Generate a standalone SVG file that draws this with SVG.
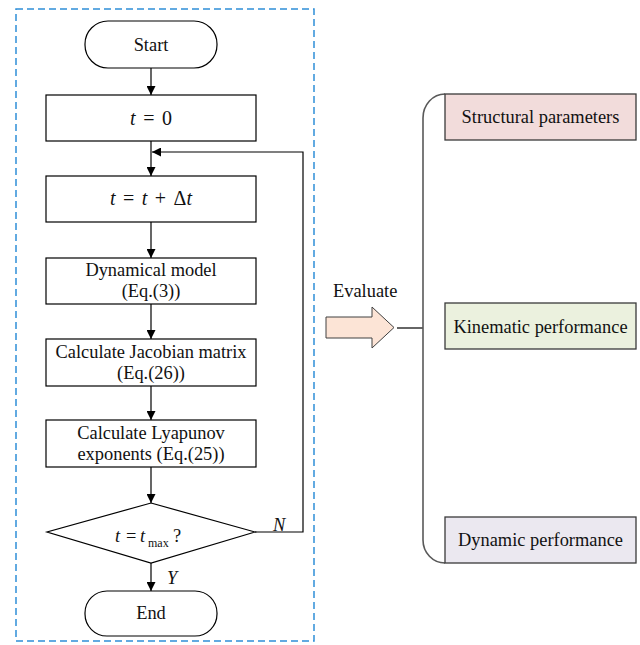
<svg xmlns="http://www.w3.org/2000/svg" width="640" height="645" viewBox="0 0 640 645">
<defs>
<marker id="ah" viewBox="0 0 10 10" refX="10" refY="5" markerWidth="9" markerHeight="9" markerUnits="userSpaceOnUse" orient="auto">
<path d="M0,0 L10,5 L0,10 Z" fill="#000"/>
</marker>
<style>
text{font-family:"Liberation Serif","Times New Roman",serif;font-size:18.4px;fill:#111;}
.m{font-size:20px;word-spacing:2.5px;}
.i{font-style:italic;}
.box{fill:#fff;stroke:#000;stroke-width:1.2;}
.rb{stroke:#3a3a3a;stroke-width:1.3;}
.ln{fill:none;stroke:#000;stroke-width:1.2;}
</style>
</defs>
<rect x="16" y="9" width="298" height="632" fill="none" stroke="#2f8fd8" stroke-width="1.5" stroke-dasharray="7,4"/>
<g id="connectors">
<line class="ln" x1="151" y1="68" x2="151" y2="95" marker-end="url(#ah)"/>
<line class="ln" x1="151" y1="141" x2="151" y2="176" marker-end="url(#ah)"/>
<line class="ln" x1="151" y1="222" x2="151" y2="258" marker-end="url(#ah)"/>
<line class="ln" x1="151" y1="304" x2="151" y2="339" marker-end="url(#ah)"/>
<line class="ln" x1="151" y1="386" x2="151" y2="420" marker-end="url(#ah)"/>
<line class="ln" x1="151" y1="467" x2="151" y2="503" marker-end="url(#ah)"/>
<line class="ln" x1="151" y1="563" x2="151" y2="591" marker-end="url(#ah)"/>
<polyline class="ln" points="255,532 303,532 303,152 152,152" marker-end="url(#ah)"/>
<text x="273" y="531" class="i">N</text>
<text x="167" y="584" class="i">Y</text>
<line class="ln" x1="397" y1="328" x2="423" y2="328"/>
</g>
<g id="start">
<rect class="box" x="85" y="21" width="132" height="47" rx="23" ry="23"/>
<text x="151" y="50.5" text-anchor="middle">Start</text>
</g>
<g id="t0">
<rect class="box" x="46" y="95" width="210" height="46"/>
<text x="151" y="125" text-anchor="middle" class="m"><tspan class="i">t</tspan> = 0</text>
</g>
<g id="tstep">
<rect class="box" x="46" y="176" width="210" height="46"/>
<text x="151" y="205" text-anchor="middle" class="m"><tspan class="i">t</tspan> = <tspan class="i">t</tspan> + Δ<tspan class="i">t</tspan></text>
</g>
<g id="model">
<rect class="box" x="46" y="258" width="210" height="46"/>
<text x="151" y="276" text-anchor="middle">Dynamical model</text>
<text x="151" y="297" text-anchor="middle">(Eq.(3))</text>
</g>
<g id="jacobian">
<rect class="box" x="46" y="339" width="210" height="47"/>
<text x="151" y="358" text-anchor="middle">Calculate Jacobian matrix</text>
<text x="151" y="379" text-anchor="middle">(Eq.(26))</text>
</g>
<g id="lyapunov">
<rect class="box" x="46" y="420" width="210" height="47"/>
<text x="151" y="439" text-anchor="middle">Calculate Lyapunov</text>
<text x="151" y="460" text-anchor="middle">exponents (Eq.(25))</text>
</g>
<g id="decision">
<polygon class="box" points="151,503 255,532 151,563 47,532"/>
<text y="542" font-size="20"><tspan x="115" class="i">t</tspan><tspan x="126">=</tspan><tspan x="140" class="i">t</tspan><tspan x="148" y="547" font-size="12">max</tspan><tspan x="173" y="542">?</tspan></text>
</g>
<g id="end">
<rect class="box" x="85" y="591" width="132" height="45" rx="22" ry="22"/>
<text x="151" y="619" text-anchor="middle">End</text>
</g>
<g id="evaluate">
<polygon points="326,317 372,317 372,307 394,327.5 372,348 372,338 326,338" fill="#fce4d6" stroke="#404040" stroke-width="1"/>
<text x="333" y="297">Evaluate</text>
</g>
<g id="brace">
<path d="M445,94 A22,24 0 0 0 423,118 L423,540 A22,23 0 0 0 445,563" fill="none" stroke="#595959" stroke-width="1.6"/>
</g>
<g id="structural">
<rect class="rb" x="445" y="94" width="191" height="46" fill="#f2dcdb"/>
<text x="540.5" y="123" text-anchor="middle">Structural parameters</text>
</g>
<g id="kinematic">
<rect class="rb" x="445" y="303" width="191" height="46" fill="#ebf1de"/>
<text x="540.5" y="333" text-anchor="middle">Kinematic performance</text>
</g>
<g id="dynamic">
<rect class="rb" x="445" y="517" width="191" height="46" fill="#ebe8f0"/>
<text x="540.5" y="546" text-anchor="middle">Dynamic performance</text>
</g>
</svg>
